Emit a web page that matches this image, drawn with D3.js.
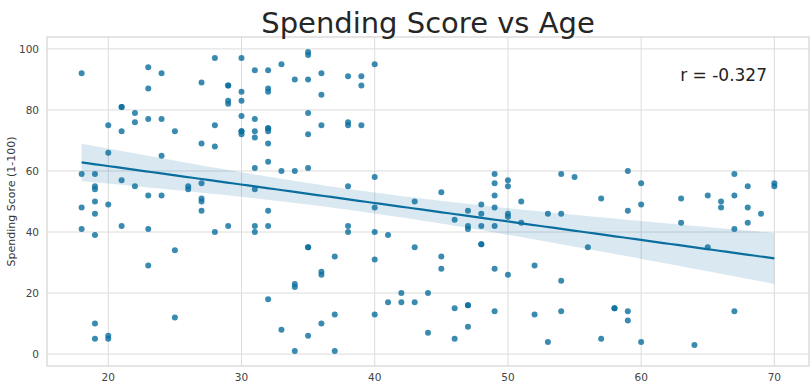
<!DOCTYPE html>
<html lang="en">
<head>
<meta charset="UTF-8">
<title>Spending Score vs Age</title>
<script src="https://d3js.org/d3.v7.min.js"></script>
<style>
  body { margin: 0; background: #fff; }
  text { font-family: "DejaVu Sans", sans-serif; }
</style>
</head>
<body>
<svg width="812" height="387"></svg>
<script>
// customer ages and spending scores (1-100)
const age = [19,21,20,23,31,22,35,23,64,30,67,35,58,24,37,22,35,20,52,35,
  35,25,46,31,54,29,45,35,40,23,60,21,53,18,49,21,42,30,36,20,
  65,24,48,31,49,24,50,27,29,31,49,33,31,59,50,47,51,69,27,53,
  70,19,67,54,63,18,43,68,19,32,70,47,60,60,59,26,45,40,23,49,
  57,38,67,46,21,48,55,22,34,50,68,18,48,40,32,24,47,27,48,20,
  23,49,67,26,49,21,66,54,68,66,65,19,38,19,18,19,63,49,51,50,
  27,38,40,39,23,31,43,40,59,38,47,39,25,31,20,29,44,32,19,35,
  57,32,28,32,25,28,48,32,34,34,43,39,44,38,47,27,37,30,34,30,
  56,29,19,31,50,36,42,33,36,32,40,28,36,36,52,30,58,27,59,35,
  37,32,46,29,41,30,54,28,41,36,34,32,33,38,47,35,45,32,32,30];
const spending = [39,81,6,77,40,76,6,94,3,72,14,99,15,77,13,79,35,66,29,98,
  35,73,5,73,14,82,32,61,31,87,4,73,4,92,14,81,17,73,26,75,
  35,92,36,61,28,65,55,47,42,42,52,60,54,60,45,41,50,46,51,46,
  56,55,52,59,51,59,50,48,59,47,55,42,49,56,47,54,53,48,52,42,
  51,55,41,44,57,46,58,55,60,46,55,41,49,40,42,52,47,50,42,49,
  41,48,59,55,56,42,50,46,43,48,52,54,42,46,48,50,43,59,43,57,
  56,40,58,91,29,77,35,95,11,75,9,75,34,71,5,88,7,73,10,72,
  5,93,40,87,12,97,36,74,22,90,17,88,20,76,16,89,1,78,1,73,
  35,83,5,93,26,75,20,95,27,63,13,75,10,92,13,86,15,69,14,90,
  32,86,15,88,39,97,24,68,17,85,23,69,8,91,16,79,28,74,18,83];
const xTicks = [20, 30, 40, 50, 60, 70];
const yTicks = [0, 20, 40, 60, 80, 100];

const svg = d3.select('svg');
const margin = { left: 47, right: 3, top: 37, bottom: 21 };
const W = 812, H = 387;

const xMin = d3.min(age), xMax = d3.max(age);
const yMin = d3.min(spending), yMax = d3.max(spending);
const xPad = (xMax - xMin) * 0.05, yPad = (yMax - yMin) * 0.05;

const x = d3.scaleLinear()
  .domain([xMin - xPad, xMax + xPad])
  .range([margin.left, W - margin.right]);
const y = d3.scaleLinear()
  .domain([yMin - yPad, yMax + yPad])
  .range([H - margin.bottom, margin.top]);

// grid
svg.append('g')
  .selectAll('line')
  .data(xTicks)
  .join('line')
  .attr('x1', d => x(d)).attr('x2', d => x(d))
  .attr('y1', margin.top).attr('y2', H - margin.bottom)
  .attr('stroke', '#dcdcdc').attr('stroke-width', 1);
svg.append('g')
  .selectAll('line')
  .data(yTicks)
  .join('line')
  .attr('x1', margin.left).attr('x2', W - margin.right)
  .attr('y1', d => y(d)).attr('y2', d => y(d))
  .attr('stroke', '#dcdcdc').attr('stroke-width', 1);

// frame
svg.append('rect')
  .attr('x', margin.left).attr('y', margin.top)
  .attr('width', W - margin.left - margin.right)
  .attr('height', H - margin.top - margin.bottom)
  .attr('fill', 'none').attr('stroke', '#d4d4d4').attr('stroke-width', 1.2);

// tick labels
svg.append('g')
  .selectAll('text')
  .data(xTicks)
  .join('text')
  .attr('x', d => x(d)).attr('y', H - margin.bottom + 15)
  .attr('text-anchor', 'middle')
  .attr('font-size', 10.5).attr('fill', '#444')
  .text(d => d);
svg.append('g')
  .selectAll('text')
  .data(yTicks)
  .join('text')
  .attr('x', margin.left - 8).attr('y', d => y(d))
  .attr('dy', '0.35em')
  .attr('text-anchor', 'end')
  .attr('font-size', 10.5).attr('fill', '#444')
  .text(d => d);

// axis labels
svg.append('text')
  .attr('transform', `translate(15,${(margin.top + H - margin.bottom) / 2}) rotate(-90)`)
  .attr('text-anchor', 'middle')
  .attr('font-size', 11).attr('fill', '#333')
  .text('Spending Score (1-100)');
// x label sits mostly below the visible area, as in the original
svg.append('text')
  .attr('x', (margin.left + W - margin.right) / 2).attr('y', H + 9)
  .attr('text-anchor', 'middle')
  .attr('font-size', 11).attr('fill', '#333')
  .text('Age');

// title
svg.append('text')
  .attr('x', (margin.left + W - margin.right) / 2).attr('y', 33)
  .attr('text-anchor', 'middle')
  .attr('font-size', 29).attr('fill', '#262626')
  .text('Spending Score vs Age');

// points
svg.append('g')
  .selectAll('circle')
  .data(age.map((a, i) => [a, spending[i]]))
  .join('circle')
  .attr('cx', d => x(d[0]))
  .attr('cy', d => y(d[1]))
  .attr('r', 3)
  .attr('fill', '#0a6e9e')
  .attr('fill-opacity', 0.8);

// linear regression with 95% confidence band
const n = age.length;
const mx = d3.mean(age), my = d3.mean(spending);
let sxx = 0, sxy = 0, syy = 0;
for (let i = 0; i < n; i++) {
  sxx += (age[i] - mx) ** 2;
  sxy += (age[i] - mx) * (spending[i] - my);
  syy += (spending[i] - my) ** 2;
}
const slope = sxy / sxx;
const icpt = my - slope * mx;
const r = sxy / Math.sqrt(sxx * syy);
let sse = 0;
for (let i = 0; i < n; i++) sse += (spending[i] - (icpt + slope * age[i])) ** 2;
const se = Math.sqrt(sse / (n - 2));
const tcrit = 1.972;

const grid = d3.range(0, 101).map(k => xMin + (xMax - xMin) * k / 100);
const fit = grid.map(g => {
  const yh = icpt + slope * g;
  const h = tcrit * se * Math.sqrt(1 / n + (g - mx) ** 2 / sxx);
  return { x: g, y: yh, lo: yh - h, hi: yh + h };
});

svg.append('path')
  .datum(fit)
  .attr('d', d3.area().x(d => x(d.x)).y0(d => y(d.lo)).y1(d => y(d.hi)))
  .attr('fill', '#0a6e9e')
  .attr('fill-opacity', 0.15);

svg.append('path')
  .datum(fit)
  .attr('d', d3.line().x(d => x(d.x)).y(d => y(d.y)))
  .attr('fill', 'none')
  .attr('stroke', '#0a6e9e')
  .attr('stroke-width', 2.2);

// correlation label
svg.append('text')
  .attr('x', 767).attr('y', 81)
  .attr('text-anchor', 'end')
  .attr('font-size', 17).attr('fill', '#222')
  .text(`r = ${r.toFixed(3)}`);
</script>
</body>
</html>
